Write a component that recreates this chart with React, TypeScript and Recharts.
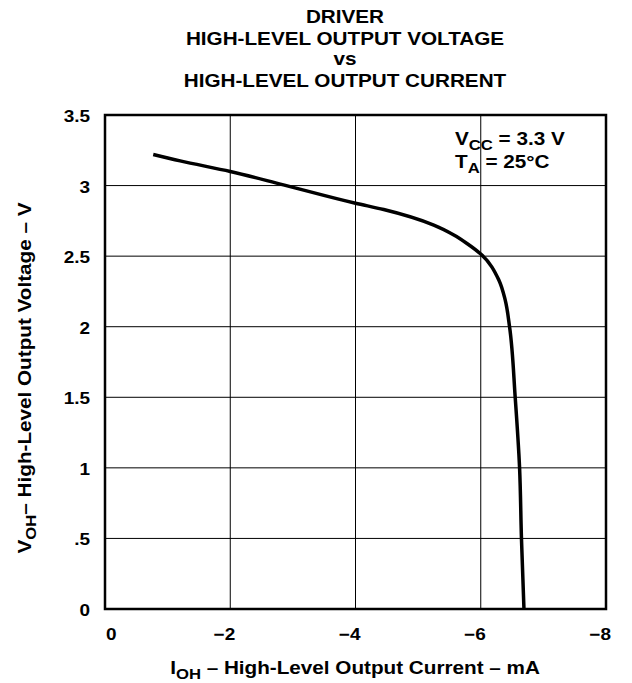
import { CartesianGrid, Line, LineChart, ReferenceArea, XAxis, YAxis } from "recharts";

// I_OH (mA) and V_OH (V)
const currentMA = [-0.77, -1.2, -2.0, -2.85, -4.0, -4.45, -5.25, -5.57, -5.78, -6.0, -6.29, -6.39, -6.46, -6.55, -6.62, -6.65, -6.69];
const voltageV = [3.22, 3.175, 3.1, 3.005, 2.875, 2.83, 2.72, 2.65, 2.59, 2.515, 2.33, 2.19, 2.0, 1.5, 1.0, 0.5, 0];

const xTicks = [0, -2, -4, -6, -8];
const xTickLabels = ["0", "\u22122", "\u22124", "\u22126", "\u22128"];
const yTicks = [0, 0.5, 1, 1.5, 2, 2.5, 3, 3.5];
const yTickLabels = ["0", ".5", "1", "1.5", "2", "2.5", "3", "3.5"];

const titleLines = ["DRIVER", "HIGH-LEVEL OUTPUT VOLTAGE", "vs", "HIGH-LEVEL OUTPUT CURRENT"];

const data = currentMA.map((i, k) => ({ i, v: voltageV[k] }));

const FONT = "'Liberation Sans', Arial, sans-serif";
const W = 632;
const H = 683;
// the reference lettering is a bit wider than Arial
const SX = 1.15;

function Txt({ x, y, size, anchor = "start", rotate = 0, children }: any) {
  return (
    <text
      transform={`translate(${x} ${y}) rotate(${rotate}) scale(${SX} 1)`}
      textAnchor={anchor}
      fontFamily={FONT}
      fontWeight="bold"
      fontSize={size}
      fill="#000"
    >
      {children}
    </text>
  );
}

function XTick({ x, y, payload }: any) {
  const idx = xTicks.indexOf(payload.value);
  const isZero = payload.value === 0;
  return (
    <Txt x={isZero ? x + 1 : x + 5} y={y + 23} size={16.5} anchor={isZero ? "start" : "end"}>
      {xTickLabels[idx]}
    </Txt>
  );
}

function YTick({ x, y, payload }: any) {
  const idx = yTicks.indexOf(payload.value);
  return (
    <Txt x={x} y={y + 7} size={16.5} anchor="end">
      {yTickLabels[idx]}
    </Txt>
  );
}

export default function App() {
  return (
    <div style={{ position: "absolute", left: 0, top: 0, width: W, height: H, background: "#fff" }}>
      <LineChart width={W} height={H} data={data} margin={{ top: 115, right: 26, left: 0, bottom: 0 }}>
        <CartesianGrid stroke="#000" strokeWidth={1} vertical horizontal />
        <XAxis
          dataKey="i"
          type="number"
          domain={[-8, 0]}
          reversed
          ticks={xTicks}
          height={74}
          axisLine={false}
          tickLine={false}
          tick={<XTick />}
          interval={0}
        />
        <YAxis
          type="number"
          domain={[0, 3.5]}
          ticks={yTicks}
          width={105}
          axisLine={false}
          tickLine={false}
          tick={<YTick />}
          interval={0}
          tickMargin={9}
        />
        <ReferenceArea x1={0} x2={-8} y1={0} y2={3.5} fill="none" stroke="#000" strokeWidth={2.5} />
        <Line
          dataKey="v"
          type="monotoneY"
          stroke="#000"
          strokeWidth={3.5}
          dot={false}
          isAnimationActive={false}
        />
      </LineChart>
      <svg width={W} height={H} style={{ position: "absolute", left: 0, top: 0, pointerEvents: "none" }}>
        <Txt x={345} y={23} size={18} anchor="middle">{titleLines[0]}</Txt>
        <Txt x={345} y={45} size={18} anchor="middle">{titleLines[1]}</Txt>
        <Txt x={345} y={65} size={18} anchor="middle">{titleLines[2]}</Txt>
        <Txt x={345} y={87} size={18} anchor="middle">{titleLines[3]}</Txt>

        <Txt x={455} y={145} size={18}>
          V<tspan fontSize={14.5} dy={5}>CC</tspan>
          <tspan dy={-5}> = 3.3 V</tspan>
        </Txt>
        <Txt x={455} y={168} size={18}>
          T<tspan fontSize={14.5} dy={5}>A</tspan>
          <tspan dy={-5}> = 25°C</tspan>
        </Txt>

        <Txt x={355} y={674} size={18} anchor="middle">
          I<tspan fontSize={14.5} dy={5}>OH</tspan>
          <tspan dy={-5}> – High-Level Output Current – mA</tspan>
        </Txt>
        <Txt x={31} y={378} size={18} anchor="middle" rotate={-90}>
          V<tspan fontSize={14.5} dy={5}>OH</tspan>
          <tspan dy={-5}>– High-Level Output Voltage – V</tspan>
        </Txt>
      </svg>
    </div>
  );
}
